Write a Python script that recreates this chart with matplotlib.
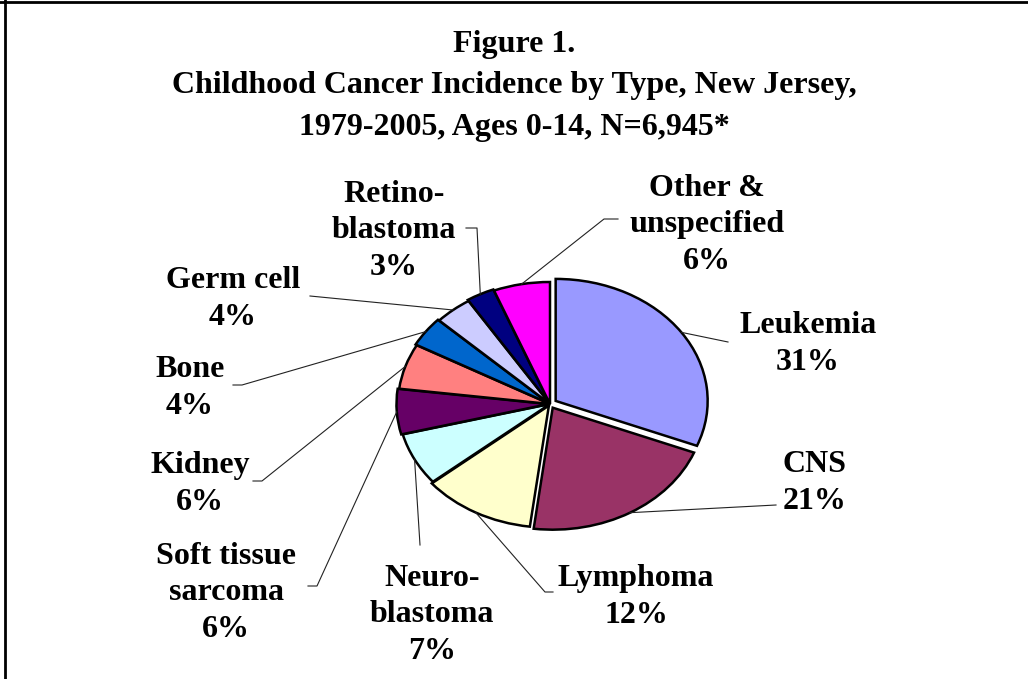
import numpy as np
import matplotlib
matplotlib.use("Agg")
import matplotlib.pyplot as plt
from matplotlib.lines import Line2D

# data, clockwise from 12 o'clock
types = ['Leukemia', 'CNS', 'Lymphoma', 'Neuroblastoma', 'Soft tissue sarcoma',
         'Kidney', 'Bone', 'Germ cell', 'Retinoblastoma', 'Other & unspecified']
pct = [31, 21, 12, 7, 6, 6, 4, 4, 3, 6]
label_text = ['Leukemia', 'CNS', 'Lymphoma', 'Neuro-\nblastoma', 'Soft tissue\nsarcoma',
              'Kidney', 'Bone', 'Germ cell', 'Retino-\nblastoma', 'Other &\nunspecified']
colors = ['#9999FF', '#993366', '#FFFFCC', '#CCFFFF', '#660066',
          '#FF8080', '#0066CC', '#CCCCFF', '#000080', '#FF00FF']
explode = [0.045, 0.035, 0.015, 0.0, 0.01, 0.0, 0.01, 0.0, 0.01, 0.0]

# label layout in image pixels (y from top): text centre, leader knee, leader end
label_pos = [(808, 344), (815, 483), (636, 597), (432, 615), (226, 593),
             (200, 484), (190, 388), (233, 299), (394, 231), (707, 225)]
leader_pts = [[(728, 342)], [(776, 505)], [(545, 592), (553, 592)], [(420, 545)],
              [(317, 586), (308, 586)], [(262, 481), (253, 481)],
              [(242, 385), (233, 385)], [(310, 296)], [(477, 228), (466, 228)],
              [(604, 219), (618, 219)]]

W, H = 1028, 679
FONT = 'Liberation Serif'

fig = plt.figure(figsize=(W / 100, H / 100), dpi=100)
fig.patch.set_facecolor('white')


def fpx(x, y):
    return x / W, 1 - y / H


# pie drawn as an ellipse
cx, cy, rx, ry = 550, 404, 152, 122
ax = fig.add_axes([(cx - rx) / W, 1 - (cy + ry) / H, 2 * rx / W, 2 * ry / H])
wedges, _ = ax.pie(pct, colors=colors, startangle=90, counterclock=False,
                   explode=explode, radius=1,
                   wedgeprops=dict(edgecolor='black', linewidth=1.8))
ax.set_aspect('auto')
ax.set_xlim(-1, 1)
ax.set_ylim(-1, 1)
ax.axis('off')
for w in wedges:
    w.set_clip_on(False)

# labels and leader lines
for i, w in enumerate(wedges):
    mid = np.deg2rad((w.theta1 + w.theta2) / 2)
    x0 = w.center[0] + w.r * np.cos(mid)
    y0 = w.center[1] + w.r * np.sin(mid)
    disp = ax.transData.transform((x0, y0))
    fx, fy = fig.transFigure.inverted().transform(disp)
    xs, ys = [fx], [fy]
    for p in leader_pts[i]:
        qx, qy = fpx(*p)
        xs.append(qx)
        ys.append(qy)
    fig.add_artist(Line2D(xs, ys, transform=fig.transFigure, color='#222222', lw=0.8))
    tx, ty = fpx(*label_pos[i])
    fig.text(tx, ty, f"{label_text[i]}\n{pct[i]}%", ha='center', va='center',
             fontsize=23, fontweight='bold', family=FONT, linespacing=1.32)

# title
fig.text(0.5, fpx(0, 86)[1], 'Figure 1.\nChildhood Cancer Incidence by Type, New Jersey,\n'
         '1979-2005, Ages 0-14, N=6,945*', ha='center', va='center',
         fontsize=23, fontweight='bold', family=FONT, linespacing=1.55)

# frame on top and left edges
fig.add_artist(Line2D([0, 1], [fpx(0, 2)[1]] * 2, transform=fig.transFigure, color='black', lw=2))
fig.add_artist(Line2D([fpx(5, 0)[0]] * 2, [0, 1], transform=fig.transFigure, color='black', lw=2))

fig.savefig('out.png', dpi=100, facecolor='white')
